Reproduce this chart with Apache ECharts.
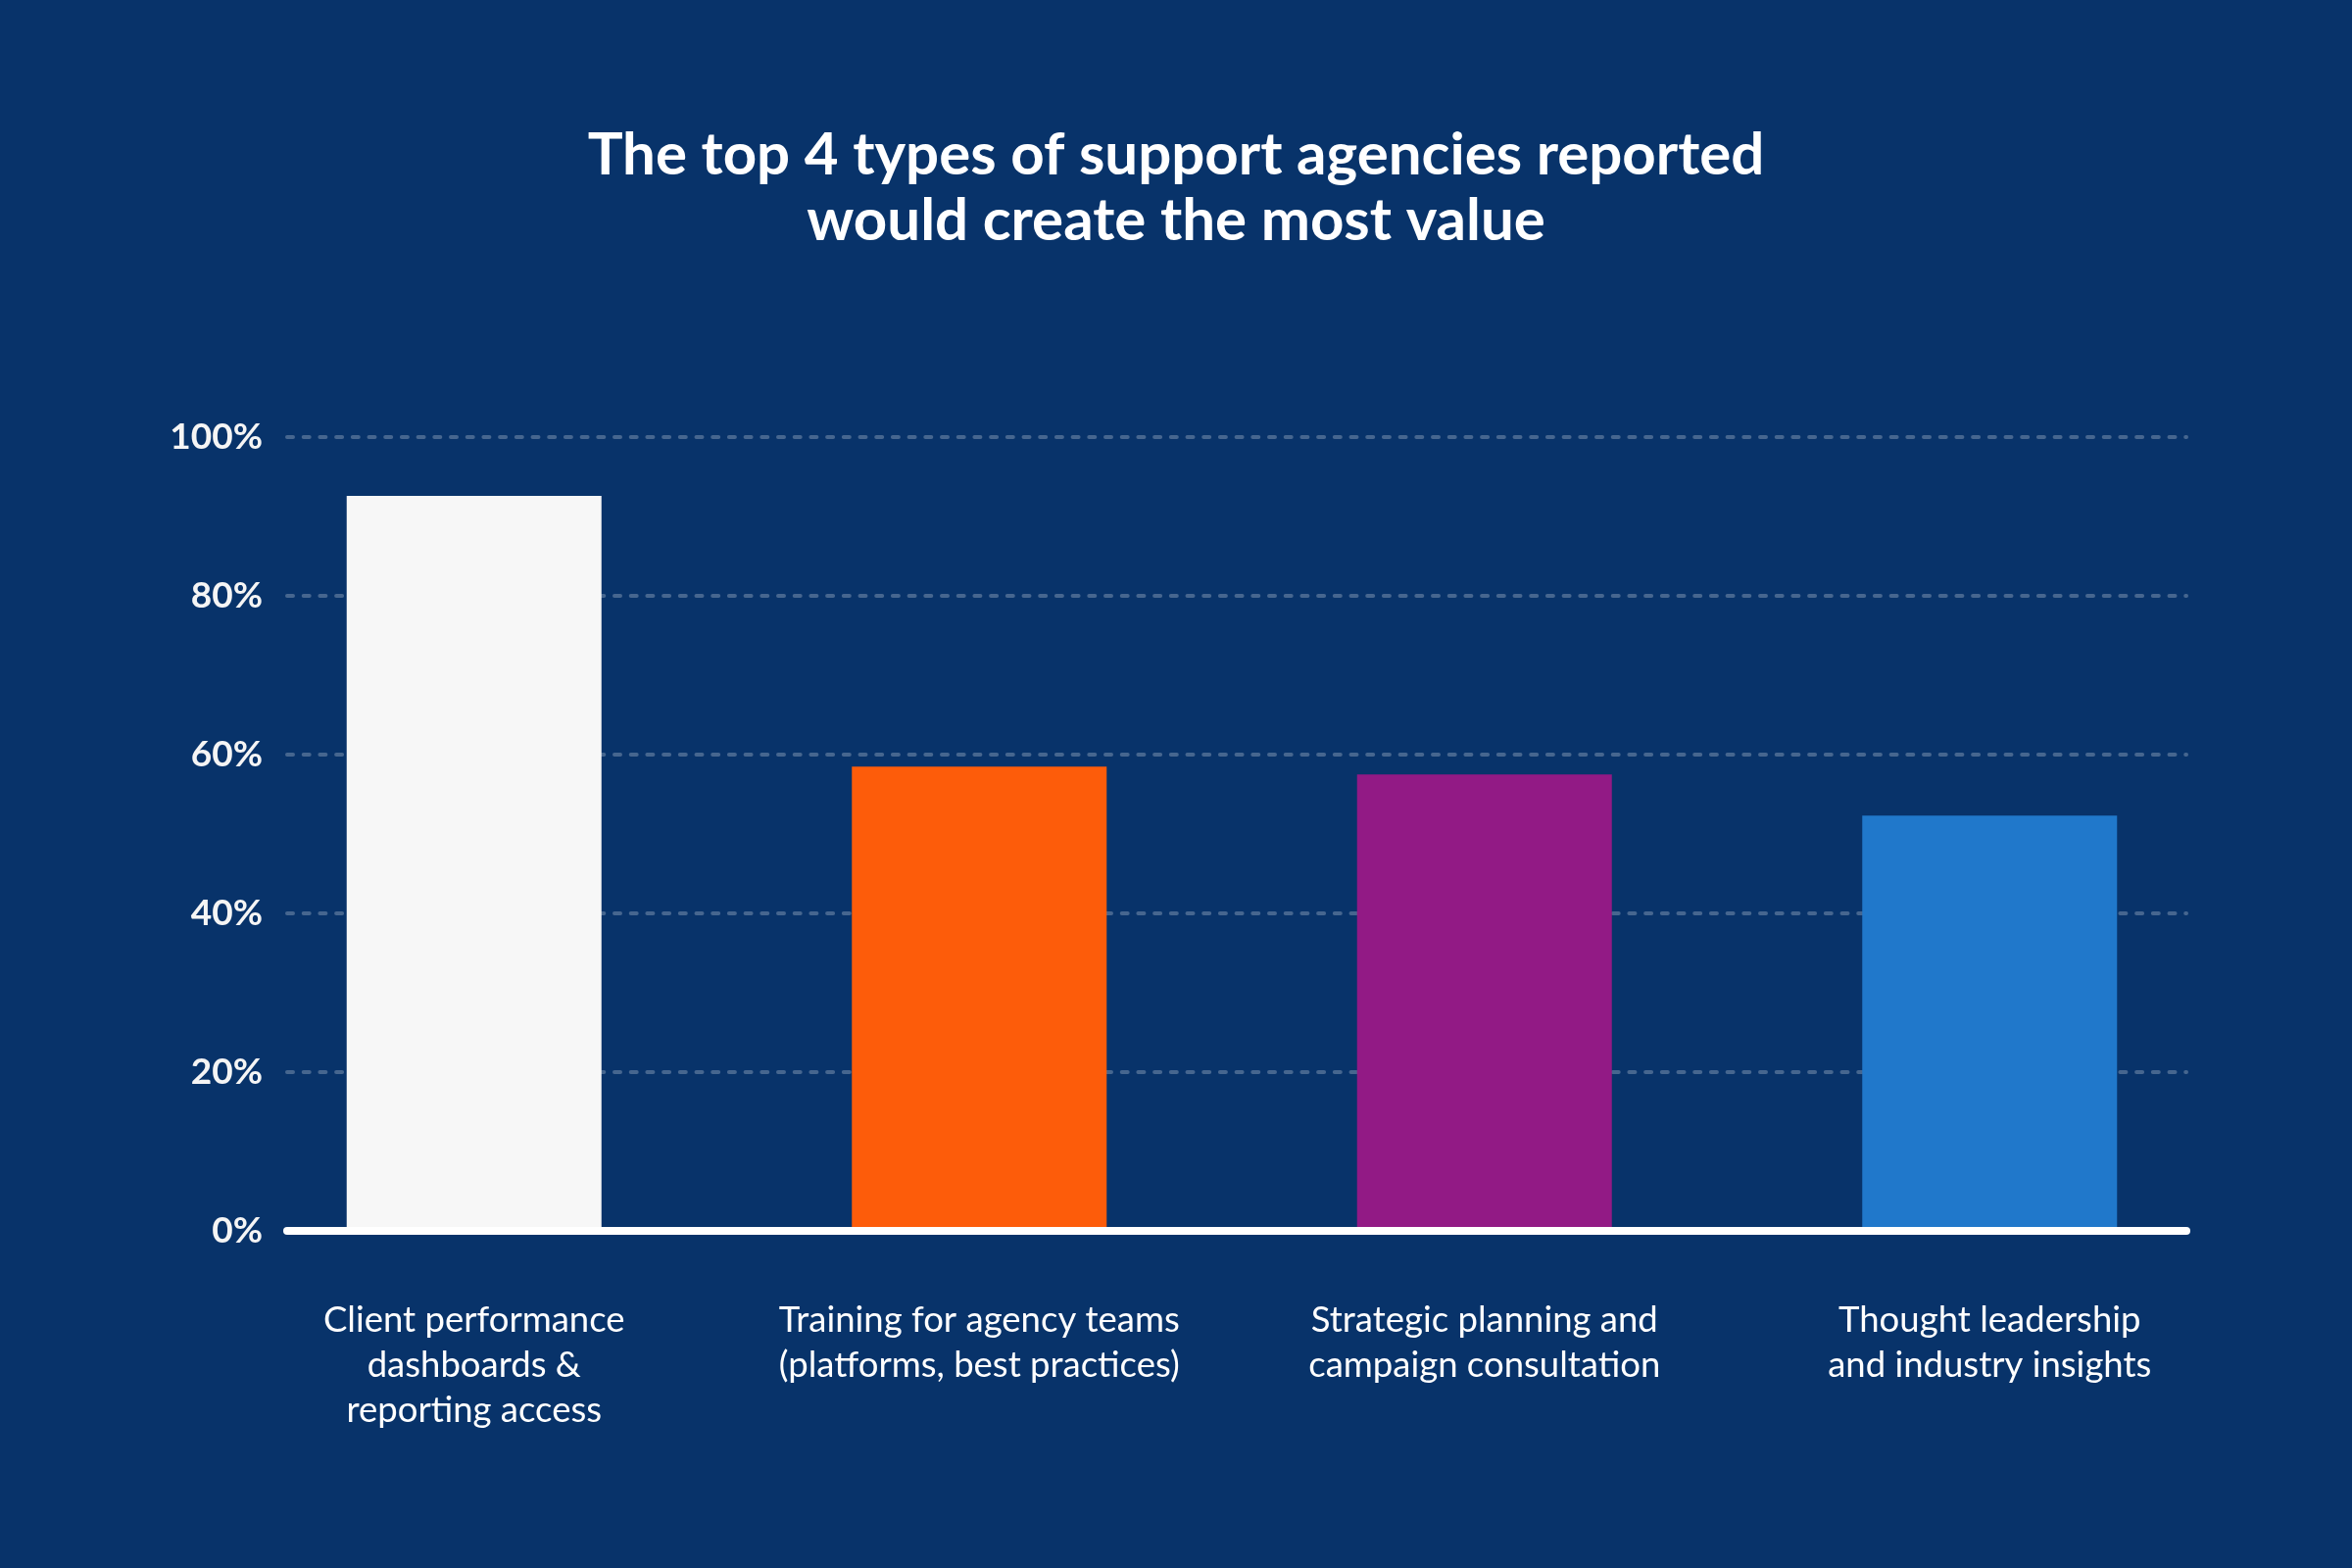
<!DOCTYPE html>
<html>
<head>
<meta charset="utf-8">
<title>Top 4 types of support</title>
<script src="https://cdn.jsdelivr.net/npm/echarts@6/dist/echarts.min.js"></script>
<style>
  html, body { margin: 0; padding: 0; background: #08336a; }
  #chart { width: 2400px; height: 1600px; }
</style>
</head>
<body>
<div id="chart"></div>
<script>
// 数据
var categories = [
  'Client performance\ndashboards &\nreporting access',
  'Training for agency teams\n(platforms, best practices)',
  'Strategic planning and\ncampaign consultation',
  'Thought leadership\nand industry insights'
]
var values = [92.6, 58.5, 57.5, 52.3]
var yTicks = [0, 20, 40, 60, 80, 100]

// 每根柱子的颜色
var barColors = ['#f7f7f7', '#fd5c0a', '#921a85', '#2078cb']

var chartDom = document.getElementById('chart')
var chart = echarts.init(chartDom)

var font = 'Lato, "Open Sans", sans-serif'

var option = {
  backgroundColor: '#08336a',
  animation: false,
  title: {
    text: 'The top 4 types of support agencies reported\nwould create the most value',
    left: 'center',
    top: 120,
    textStyle: {
      color: '#ffffff',
      fontFamily: font,
      fontWeight: 'bold',
      fontSize: 60,
      lineHeight: 67
    }
  },
  grid: [
    // 柱状图
    { left: 226, right: 112, top: 446, bottom: 344 },
    // 坐标轴 / 网格线
    { left: 293, right: 169, top: 446, bottom: 344 }
  ],
  xAxis: [
    {
      type: 'category',
      gridIndex: 0,
      data: categories,
      axisLine: { show: false },
      axisTick: { show: false },
      axisLabel: {
        color: '#ffffff',
        fontFamily: font,
        fontSize: 36.5,
        lineHeight: 46,
        margin: 68,
        interval: 0
      }
    },
    {
      type: 'value',
      gridIndex: 1,
      min: 0,
      max: 1,
      z: 10,
      axisLine: {
        show: true,
        lineStyle: { color: '#ffffff', width: 8, cap: 'round' }
      },
      axisTick: { show: false },
      axisLabel: { show: false },
      splitLine: { show: false }
    }
  ],
  yAxis: [
    {
      type: 'value',
      gridIndex: 0,
      min: 0,
      max: 100,
      show: false
    },
    {
      type: 'value',
      gridIndex: 1,
      min: yTicks[0],
      max: yTicks[yTicks.length - 1],
      interval: yTicks[1] - yTicks[0],
      axisLine: { show: false },
      axisTick: { show: false },
      axisLabel: {
        formatter: '{value}%',
        color: '#f5f5f5',
        fontFamily: font,
        fontWeight: 'bold',
        fontSize: 37,
        margin: 25
      },
      splitLine: {
        show: true,
        lineStyle: {
          color: 'rgba(255, 255, 255, 0.25)',
          width: 4,
          type: [6, 10.7],
          cap: 'round'
        }
      }
    }
  ],
  series: [
    {
      type: 'bar',
      xAxisIndex: 0,
      yAxisIndex: 0,
      barWidth: 260,
      data: values.map(function (v, i) {
        return { value: v, itemStyle: { color: barColors[i] } }
      })
    }
  ]
}

chart.setOption(option)
</script>
</body>
</html>
